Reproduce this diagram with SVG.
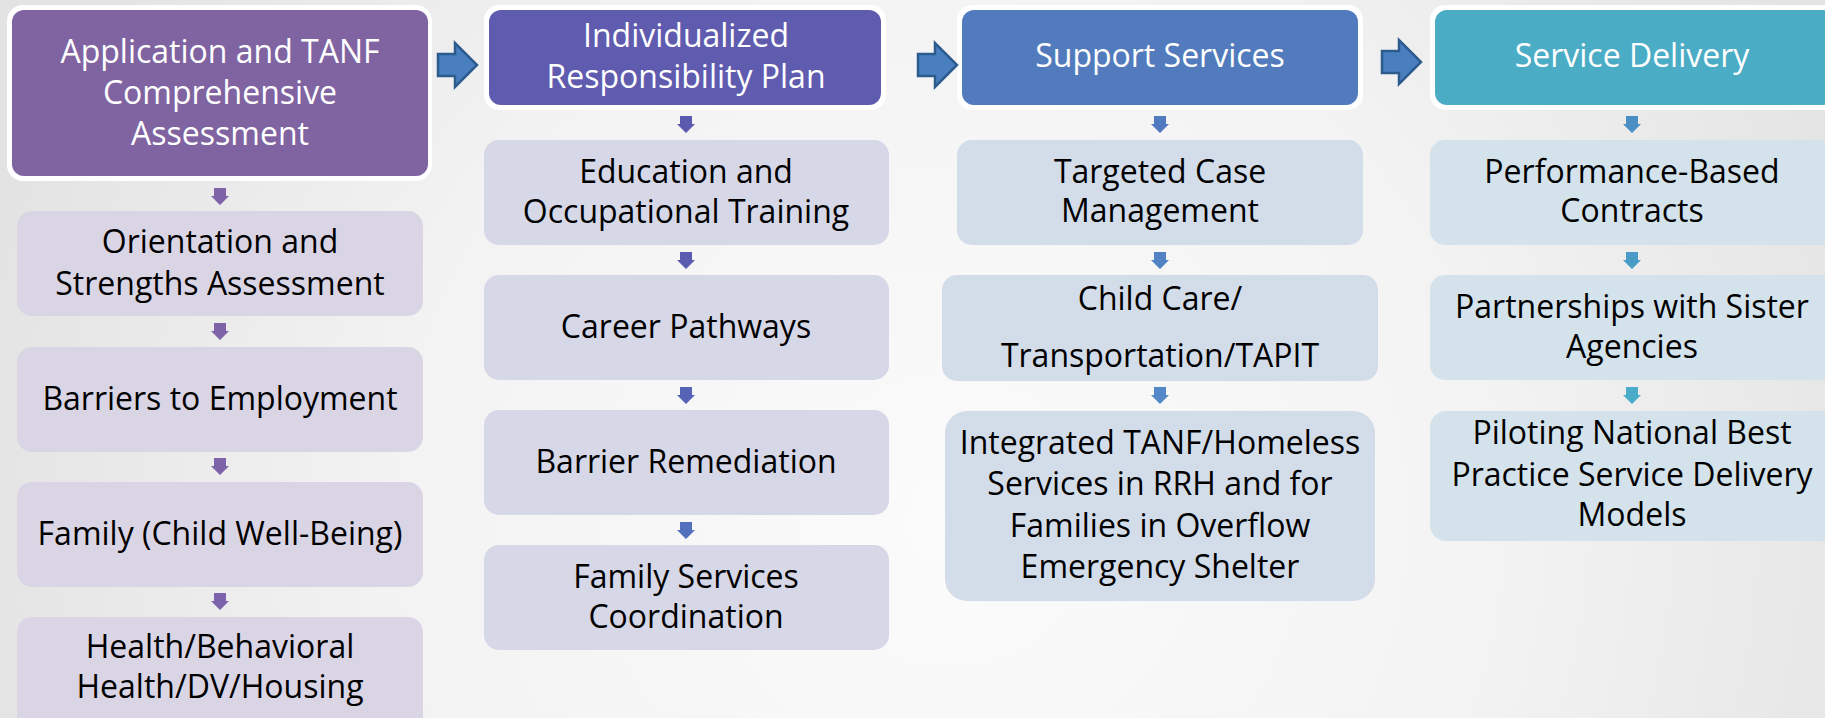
<svg xmlns="http://www.w3.org/2000/svg" width="1825" height="718" viewBox="0 0 1825 718">
<defs>
<radialGradient id="bg" gradientUnits="userSpaceOnUse" cx="950" cy="520" r="1000">
<stop offset="0" stop-color="#fbfbfb"/>
<stop offset="0.55" stop-color="#f3f3f3"/>
<stop offset="1" stop-color="#e3e3e3"/>
</radialGradient>
<path id="dn" d="M-6,0 h12 v8 h3 l-9,9 l-9,-9 h3 z"/>
<path id="rt" d="M0,-11 h17 v-11 l22,22 l-22,22 v-11 h-17 z"/>
<style>
text{font-family:"Open Sans","Noto Sans","Liberation Sans",sans-serif;font-size:32px;text-anchor:middle}
.hd{fill:#ffffff}
.sb{fill:#000000}
.wb{fill:#ffffff}
.c1{fill:#DAD5E5}
.c2{fill:#D6D7E7}
.c3{fill:#D3DCE9}
.c4{fill:#D3E2EB}
.ra{fill:#4A7FBF;stroke:#2E5B8E;stroke-width:2.5;stroke-linejoin:miter}
</style>
</defs>
<rect x="0" y="0" width="1825" height="718" fill="url(#bg)"/>

<g id="h1">
<rect class="wb" x="7" y="5" width="425" height="176" rx="16"/>
<rect x="12" y="10" width="416" height="166" rx="12" fill="#8064A2"/>
<text class="hd" x="220" y="63">Application and TANF</text>
<text class="hd" x="220" y="104">Comprehensive</text>
<text class="hd" x="220" y="145">Assessment</text>
</g>
<g id="n1a">
<rect class="c1" x="17" y="211" width="406" height="105" rx="15"/>
<text class="sb" x="220" y="253">Orientation and</text>
<text class="sb" x="220" y="295">Strengths Assessment</text>
</g>
<g id="n1b">
<rect class="c1" x="17" y="347" width="406" height="105" rx="15"/>
<text class="sb" x="220" y="410">Barriers to Employment</text>
</g>
<g id="n1c">
<rect class="c1" x="17" y="482" width="406" height="105" rx="15"/>
<text class="sb" x="220" y="545">Family (Child Well-Being)</text>
</g>
<g id="n1d">
<rect class="c1" x="17" y="617" width="406" height="115" rx="15"/>
<text class="sb" x="220" y="658">Health/Behavioral</text>
<text class="sb" x="220" y="698">Health/DV/Housing</text>
</g>

<g id="h2">
<rect class="wb" x="484" y="5" width="402" height="105" rx="15"/>
<rect x="489" y="10" width="392" height="95" rx="12" fill="#5F5CAF"/>
<text class="hd" x="686" y="47">Individualized</text>
<text class="hd" x="686" y="88">Responsibility Plan</text>
</g>
<g id="n2a">
<rect class="c2" x="484" y="140" width="405" height="105" rx="15"/>
<text class="sb" x="686" y="183">Education and</text>
<text class="sb" x="686" y="223">Occupational Training</text>
</g>
<g id="n2b">
<rect class="c2" x="484" y="275" width="405" height="105" rx="15"/>
<text class="sb" x="686" y="338">Career Pathways</text>
</g>
<g id="n2c">
<rect class="c2" x="484" y="410" width="405" height="105" rx="15"/>
<text class="sb" x="686" y="473">Barrier Remediation</text>
</g>
<g id="n2d">
<rect class="c2" x="484" y="545" width="405" height="105" rx="15"/>
<text class="sb" x="686" y="588">Family Services</text>
<text class="sb" x="686" y="628">Coordination</text>
</g>

<g id="h3">
<rect class="wb" x="957" y="5" width="406" height="105" rx="15"/>
<rect x="962" y="10" width="396" height="95" rx="12" fill="#527BBD"/>
<text class="hd" x="1160" y="67">Support Services</text>
</g>
<g id="n3a">
<rect class="c3" x="957" y="140" width="406" height="105" rx="15"/>
<text class="sb" x="1160" y="183">Targeted Case</text>
<text class="sb" x="1160" y="222">Management</text>
</g>
<g id="n3b">
<rect class="c3" x="942" y="275" width="436" height="106" rx="15"/>
<text class="sb" x="1160" y="310">Child Care/</text>
<text class="sb" x="1160" y="367">Transportation/TAPIT</text>
</g>
<g id="n3c">
<rect class="c3" x="945" y="411" width="430" height="190" rx="22"/>
<text class="sb" x="1160" y="454">Integrated TANF/Homeless</text>
<text class="sb" x="1160" y="495">Services in RRH and for</text>
<text class="sb" x="1160" y="537">Families in Overflow</text>
<text class="sb" x="1160" y="578">Emergency Shelter</text>
</g>

<g id="h4">
<rect class="wb" x="1430" y="5" width="410" height="105" rx="15"/>
<rect x="1435" y="10" width="400" height="95" rx="12" fill="#4BACC6"/>
<text class="hd" x="1632" y="67">Service Delivery</text>
</g>
<g id="n4a">
<rect class="c4" x="1430" y="140" width="410" height="105" rx="15"/>
<text class="sb" x="1632" y="183">Performance-Based</text>
<text class="sb" x="1632" y="222">Contracts</text>
</g>
<g id="n4b">
<rect class="c4" x="1430" y="275" width="410" height="105" rx="15"/>
<text class="sb" x="1632" y="318">Partnerships with Sister</text>
<text class="sb" x="1632" y="358">Agencies</text>
</g>
<g id="n4c">
<rect class="c4" x="1430" y="411" width="410" height="130" rx="16"/>
<text class="sb" x="1632" y="444">Piloting National Best</text>
<text class="sb" x="1632" y="486">Practice Service Delivery</text>
<text class="sb" x="1632" y="526">Models</text>
</g>

<g id="connectors">
<use href="#rt" class="ra" x="438" y="65"/>
<use href="#rt" class="ra" x="918" y="65"/>
<use href="#rt" class="ra" x="1382" y="62"/>
<use href="#dn" x="220" y="188" fill="#7E63A8"/>
<use href="#dn" x="220" y="323" fill="#7E63A8"/>
<use href="#dn" x="220" y="458" fill="#7D63AA"/>
<use href="#dn" x="220" y="593" fill="#7C63AC"/>
<use href="#dn" x="686" y="116" fill="#5C5AAE"/>
<use href="#dn" x="686" y="252" fill="#5A5CB2"/>
<use href="#dn" x="686" y="387" fill="#5664B8"/>
<use href="#dn" x="686" y="522" fill="#5270BE"/>
<use href="#dn" x="1160" y="116" fill="#5079BF"/>
<use href="#dn" x="1160" y="252" fill="#5282C4"/>
<use href="#dn" x="1160" y="387" fill="#5588C8"/>
<use href="#dn" x="1632" y="116" fill="#4A8EC4"/>
<use href="#dn" x="1632" y="252" fill="#4A9CC8"/>
<use href="#dn" x="1632" y="387" fill="#4AACC8"/>
</g>
</svg>
